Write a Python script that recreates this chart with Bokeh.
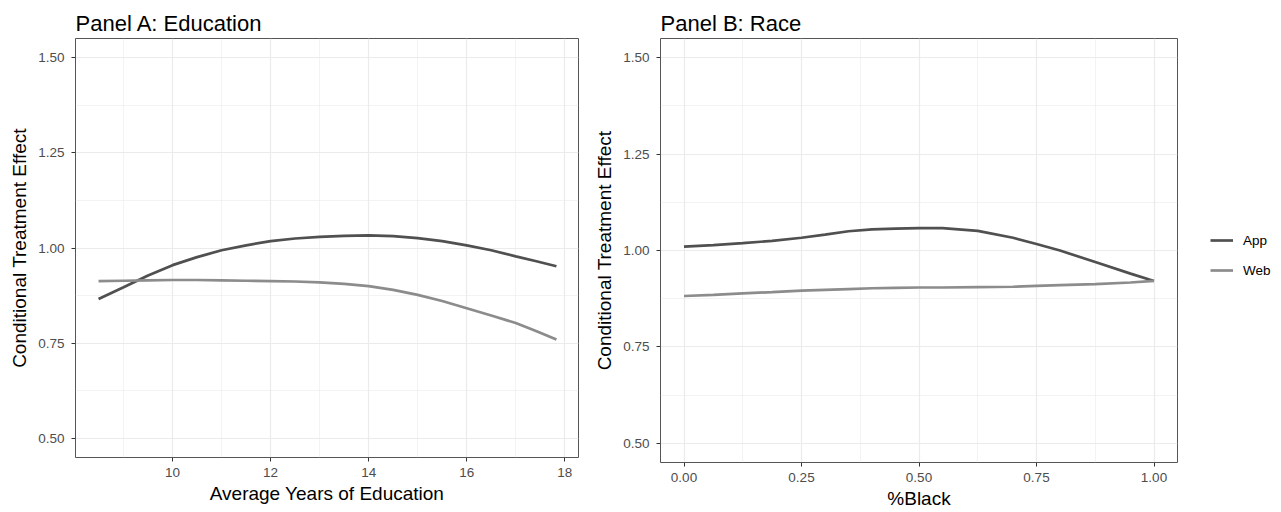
from bokeh.plotting import figure
from bokeh.models import Range1d, FixedTicker, Legend, LegendItem
from bokeh.layouts import row, column
from bokeh.embed import file_html
from bokeh.resources import INLINE

# ---- data ----
edu_x = [8.49, 9.0, 9.5, 10.0, 10.5, 11.0, 11.5, 12.0, 12.5, 13.0, 13.5, 14.0,
         14.5, 15.0, 15.5, 16.0, 16.5, 17.0, 17.4, 17.83]
edu_app = [0.866, 0.897, 0.928, 0.955, 0.976, 0.994, 1.007, 1.018, 1.025, 1.029, 1.032, 1.033,
           1.031, 1.026, 1.018, 1.007, 0.994, 0.978, 0.966, 0.952]
edu_web = [0.913, 0.914, 0.915, 0.916, 0.916, 0.915, 0.914, 0.913, 0.912, 0.910, 0.906, 0.900,
           0.890, 0.877, 0.861, 0.842, 0.823, 0.803, 0.783, 0.760]

race_x = [0.0, 0.0625, 0.125, 0.1875, 0.25, 0.3, 0.35, 0.4, 0.45, 0.5, 0.55, 0.625,
          0.7, 0.75, 0.8, 0.875, 0.95, 1.0]
race_app = [1.010, 1.014, 1.019, 1.025, 1.033, 1.041, 1.050, 1.055, 1.057, 1.058, 1.058, 1.051,
            1.033, 1.017, 1.000, 0.970, 0.940, 0.921]
race_web = [0.882, 0.885, 0.889, 0.892, 0.896, 0.898, 0.900, 0.902, 0.903, 0.904, 0.904, 0.905,
            0.906, 0.908, 0.910, 0.913, 0.917, 0.921]

y_ticks = [0.50, 0.75, 1.00, 1.25, 1.50]
y_minor = [0.625, 0.875, 1.125, 1.375]
edu_ticks = [10, 12, 14, 16, 18]
edu_minor = [9, 11, 13, 15, 17]
race_ticks = [0.0, 0.25, 0.5, 0.75, 1.0]
race_minor = [0.125, 0.375, 0.625, 0.875]
race_labels = {0.0: "0.00", 0.25: "0.25", 0.5: "0.50", 0.75: "0.75", 1.0: "1.00"}
y_labels = {0.5: "0.50", 0.75: "0.75", 1.0: "1.00", 1.25: "1.25", 1.5: "1.50"}
edu_labels = {10: "10", 12: "12", 14: "14", 16: "16", 18: "18"}

series_names = ["App", "Web"]
series_colors = ["#505050", "#8c8c8c"]

FONT = "Liberation Sans"


def make_panel(title, xlab, xr, xt, xm, xlabels, width, height, bl, br, bt, bb):
    p = figure(width=width, height=height, output_backend="svg", toolbar_location=None,
               x_range=Range1d(*xr), y_range=Range1d(0.45, 1.55),
               min_border_left=bl, min_border_right=br, min_border_top=bt, min_border_bottom=bb)
    p.title.text = title
    p.title.text_font = FONT
    p.title.text_font_size = "22px"
    p.title.text_font_style = "normal"
    p.title.text_color = "#000000"
    p.title.align = "left"
    p.title.standoff = 6
    p.outline_line_color = "#555555"
    p.outline_line_width = 1
    p.background_fill_color = "white"
    p.border_fill_color = "white"

    p.xaxis.ticker = FixedTicker(ticks=xt, minor_ticks=xm)
    p.yaxis.ticker = FixedTicker(ticks=y_ticks, minor_ticks=y_minor)
    p.xaxis.major_label_overrides = xlabels
    p.yaxis.major_label_overrides = y_labels
    p.xgrid.ticker = FixedTicker(ticks=xt, minor_ticks=xm)
    p.ygrid.ticker = FixedTicker(ticks=y_ticks, minor_ticks=y_minor)
    for g in (p.xgrid, p.ygrid):
        g.grid_line_color = "#ebebeb"
        g.grid_line_width = 1.2
        g.minor_grid_line_color = "#ebebeb"
        g.minor_grid_line_width = 0.6

    for ax in (p.xaxis, p.yaxis):
        ax.axis_line_color = None
        ax.major_tick_line_color = "#333333"
        ax.major_tick_out = 4
        ax.major_tick_in = 0
        ax.minor_tick_line_color = None
        ax.major_label_text_font = FONT
        ax.major_label_text_font_size = "13.5px"
        ax.major_label_text_color = "#4d4d4d"
        ax.axis_label_text_font = FONT
        ax.axis_label_text_font_size = "19px"
        ax.axis_label_text_font_style = "normal"
        ax.axis_label_text_color = "#000000"
    p.xaxis.major_label_standoff = 6
    p.xaxis.axis_label_standoff = 3
    p.yaxis.major_label_standoff = 7
    p.yaxis.axis_label_standoff = 5
    p.xaxis.axis_label = xlab
    p.yaxis.axis_label = "Conditional Treatment Effect"
    return p


pA = make_panel("Panel A: Education", "Average Years of Education", (8.02, 18.28),
                edu_ticks, edu_minor, edu_labels, 591, 512, 75, 13, 38, 55)
pB = make_panel("Panel B: Race", "%Black", (-0.05, 1.05),
                race_ticks, race_minor, race_labels, 588, 512, 68, 2, 38, 50)

pA.line(edu_x, edu_app, line_color=series_colors[0], line_width=2.7)
pA.line(edu_x, edu_web, line_color=series_colors[1], line_width=2.7)
pB.line(race_x, race_app, line_color=series_colors[0], line_width=2.7)
pB.line(race_x, race_web, line_color=series_colors[1], line_width=2.7)

# legend panel (key only)
pC = figure(width=100, height=512, output_backend="svg", toolbar_location=None,
            x_range=Range1d(0, 1), y_range=Range1d(0, 1),
            min_border_left=0, min_border_right=0, min_border_top=0, min_border_bottom=0,
            x_axis_type=None, y_axis_type=None)
pC.outline_line_color = None
pC.xgrid.visible = False
pC.ygrid.visible = False
nan = float("nan")
kApp = pC.line([nan], [nan], line_color=series_colors[0], line_width=2.7)
kWeb = pC.line([nan], [nan], line_color=series_colors[1], line_width=2.7)
legend = Legend(items=[LegendItem(label=series_names[0], renderers=[kApp]),
                       LegendItem(label=series_names[1], renderers=[kWeb])],
                location=(31, 232), orientation="vertical",
                glyph_width=23, glyph_height=20, label_standoff=10, spacing=10,
                padding=0, margin=0, border_line_color=None,
                background_fill_alpha=0,
                label_text_font=FONT, label_text_font_size="13.5px", label_text_color="#000000")
pC.add_layout(legend, "center")

layout = row(column(pA), column(pB), column(pC), spacing=0)
open("out.html", "w").write(file_html(layout, INLINE))
